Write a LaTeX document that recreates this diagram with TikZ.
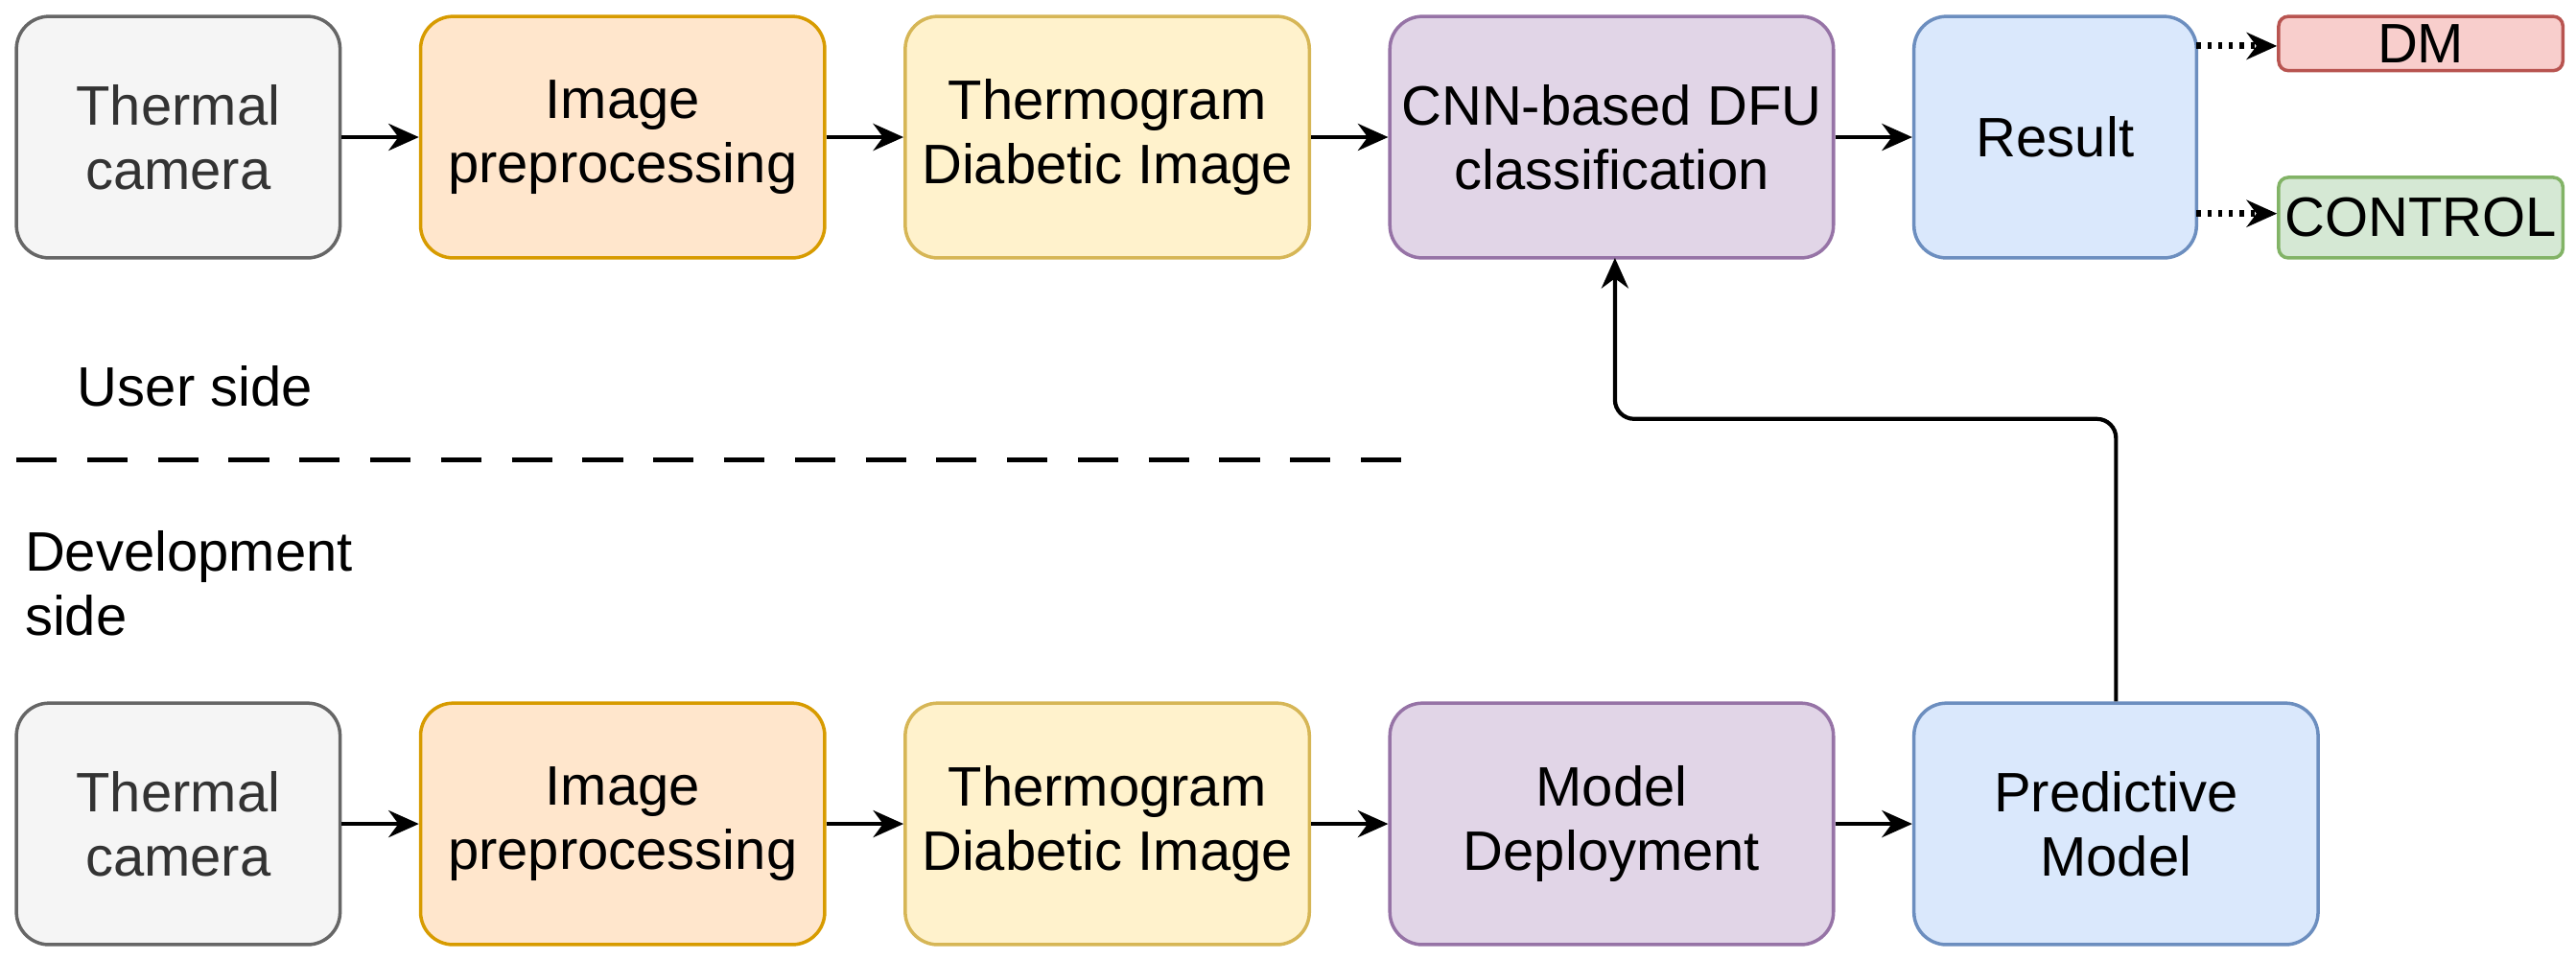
\documentclass[tikz,border=0pt]{standalone}
\usepackage{fontspec}
\setmainfont{Liberation Sans}
\usetikzlibrary{arrows.meta}
\definecolor{gf}{HTML}{F5F5F5}\definecolor{gd}{HTML}{666666}
\definecolor{of}{HTML}{FFE6CC}\definecolor{od}{HTML}{D79B00}
\definecolor{yf}{HTML}{FFF2CC}\definecolor{yd}{HTML}{D6B656}
\definecolor{pf}{HTML}{E1D5E7}\definecolor{pd}{HTML}{9673A6}
\definecolor{bf}{HTML}{DAE8FC}\definecolor{bd}{HTML}{6C8EBF}
\definecolor{rf}{HTML}{F8CECC}\definecolor{rd}{HTML}{B85450}
\definecolor{ef}{HTML}{D5E8D4}\definecolor{ed}{HTML}{82B366}
\begin{document}
\begin{tikzpicture}[x=0.01713cm,y=-0.01713cm,
 box/.style={draw,line width=1pt,rounded corners=0.34cm,align=center,
   font=\fontsize{16.5}{19}\selectfont,inner sep=0pt},
 g/.style={box,fill=gf,draw=gd,text=black!80},
 o/.style={box,fill=of,draw=od},
 yl/.style={box,fill=yf,draw=yd},
 p/.style={box,fill=pf,draw=pd},
 b/.style={box,fill=bf,draw=bd},
 arr/.style={-{Stealth[length=9pt,width=8pt]},line width=1.2pt},
 lbl/.style={font=\fontsize{16.5}{19}\selectfont,align=left}]
\useasboundingbox (0,0) rectangle (1568,584);
\newcommand\bx[7]{\node[#1,minimum width=#4*0.01713cm-#3*0.01713cm,minimum height=#6*0.01713cm-#5*0.01713cm] (#2) at ({(#3+#4)/2},{(#5+#6)/2}) {#7};}
\bx{g}{a1}{10}{207}{10}{157}{Thermal\\camera}
\bx{o}{a2}{256}{502}{10}{157}{Image\\preprocessing}
\bx{yl}{a3}{551}{797}{10}{157}{Thermogram\\Diabetic Image}
\bx{p}{a4}{846}{1116}{10}{157}{CNN-based DFU\\classification}
\bx{b}{a5}{1165}{1337}{10}{157}{Result}
\node[box,fill=rf,draw=rd,minimum width=173*0.01713cm,minimum height=33*0.01713cm,rounded corners=0.1cm] (dm) at (1473.5,26.5) {DM};
\node[box,fill=ef,draw=ed,minimum width=173*0.01713cm,minimum height=49*0.01713cm,rounded corners=0.1cm] (ctl) at (1473.5,132.5) {CONTROL};
\bx{g}{b1}{10}{207}{428}{575}{Thermal\\camera}
\bx{o}{b2}{256}{502}{428}{575}{Image\\preprocessing}
\bx{yl}{b3}{551}{797}{428}{575}{Thermogram\\Diabetic Image}
\bx{p}{b4}{846}{1116}{428}{575}{Model\\Deployment}
\bx{b}{b5}{1165}{1411}{428}{575}{Predictive\\Model}
\foreach \i/\j in {a1/a2,a2/a3,a3/a4,a4/a5,b1/b2,b2/b3,b3/b4,b4/b5}
  \draw[arr] (\i) -- (\j);
\coordinate (d1) at (1337,28); \coordinate (d2) at (1337,130);
\draw[arr,dotted,line width=2pt] (d1) -- (dm.west |- d1);
\draw[arr,dotted,line width=2pt] (d2) -- (ctl.west |- d2);
\draw[arr,rounded corners=0.2cm] (b5.north -| 1288,0) -- (1288,255) -- (983,255) -- (983,157);
\draw[dashed,line width=1.5pt,dash pattern=on 12pt off 9pt] (10,280) -- (870,280);
\node[lbl,anchor=west] (us) at (40,235) {User side};
\node[lbl,anchor=west] (ds) at (8,355) {Development\\side};
\end{tikzpicture}
\end{document}
